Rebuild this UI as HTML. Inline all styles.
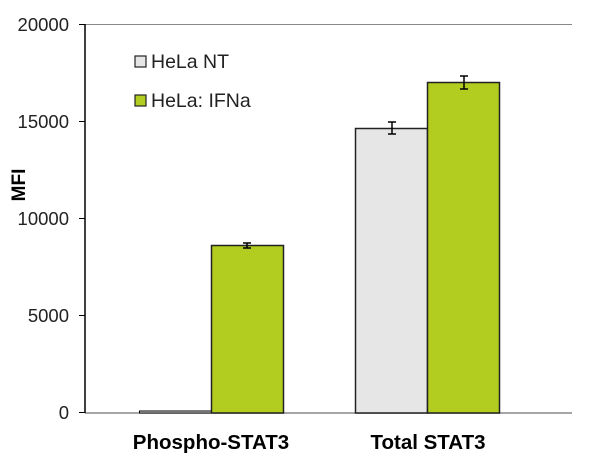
<!DOCTYPE html>
<html><head><style>body{margin:0;background:#fff}</style></head><body>
<svg width="600" height="464" xmlns="http://www.w3.org/2000/svg" font-family="Liberation Sans, sans-serif">
<line x1="85" y1="24.5" x2="572" y2="24.5" stroke="#888" stroke-width="1"/>
<line x1="85" y1="413" x2="572" y2="413" stroke="#888" stroke-width="1.5"/>
<line x1="85" y1="24" x2="85" y2="413" stroke="#000" stroke-width="1.5"/>
<g stroke="#000" stroke-width="1">
<line x1="79" y1="24.5" x2="85" y2="24.5"/><line x1="79" y1="121.5" x2="85" y2="121.5"/>
<line x1="79" y1="218.5" x2="85" y2="218.5"/><line x1="79" y1="315.5" x2="85" y2="315.5"/>
<line x1="79" y1="412.5" x2="85" y2="412.5"/></g>
<g font-size="18.5" fill="#222" text-anchor="end">
<text x="69" y="31">20000</text><text x="69" y="128">15000</text>
<text x="69" y="225">10000</text><text x="69" y="322">5000</text><text x="69" y="419">0</text></g>
<text transform="translate(25,185) rotate(-90)" font-size="19" font-weight="bold" text-anchor="middle">MFI</text>
<rect x="139.5" y="411" width="72" height="2" fill="#e6e6e6" stroke="#000"/>
<rect x="211.5" y="245.5" width="72" height="167.5" fill="#b2cc1f" stroke="#222" stroke-width="1.5"/>
<rect x="355.5" y="128.5" width="72" height="284.5" fill="#e6e6e6" stroke="#222" stroke-width="1.5"/>
<rect x="427.5" y="82.5" width="72" height="330.5" fill="#b2cc1f" stroke="#222" stroke-width="1.5"/>
<g stroke="#000" stroke-width="1.5">
<line x1="247" y1="243" x2="247" y2="248"/><line x1="243" y1="243" x2="251" y2="243"/><line x1="243" y1="248" x2="251" y2="248"/>
<line x1="392" y1="122" x2="392" y2="134"/><line x1="388" y1="122" x2="396" y2="122"/><line x1="388" y1="134" x2="396" y2="134"/>
<line x1="464" y1="76" x2="464" y2="89"/><line x1="460" y1="76" x2="468" y2="76"/><line x1="460" y1="89" x2="468" y2="89"/></g>
<rect x="135" y="56" width="11" height="11" fill="#e6e6e6" stroke="#222" stroke-width="1.2"/>
<rect x="135" y="95" width="11" height="11" fill="#b2cc1f" stroke="#222" stroke-width="1.2"/>
<g font-size="19.5" fill="#222"><text x="151" y="68">HeLa NT</text><text x="151" y="107">HeLa: IFNa</text></g>
<g font-size="20.5" font-weight="bold" text-anchor="middle"><text x="211" y="449">Phospho-STAT3</text><text x="428" y="449">Total STAT3</text></g>
</svg>
</body></html>
